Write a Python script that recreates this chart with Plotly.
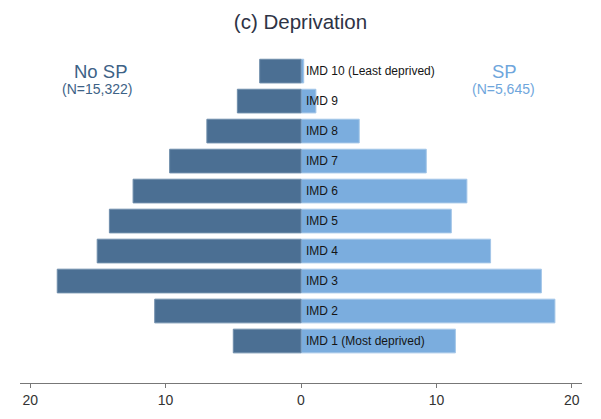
import plotly.graph_objects as go

# IMD deciles, bottom to top
categories = ["IMD 1 (Most deprived)", "IMD 2", "IMD 3", "IMD 4", "IMD 5",
              "IMD 6", "IMD 7", "IMD 8", "IMD 9", "IMD 10 (Least deprived)"]
# Percentage of each group in each decile
no_sp = [5.0, 10.8, 18.0, 15.05, 14.15, 12.4, 9.7, 6.95, 4.7, 3.05]
sp = [11.4, 18.75, 17.75, 14.0, 11.1, 12.25, 9.25, 4.3, 1.1, 0.2]
tick_vals = [-20, -10, 0, 10, 20]
tick_text = ["20", "10", "0", "10", "20"]

FONT = "Liberation Sans, Arial, sans-serif"
DARK = "#4b6f93"
LIGHT = "#7badde"
pos = list(range(len(categories)))

fig = go.Figure()
fig.add_trace(go.Bar(
    y=pos, x=sp, orientation="h", width=0.79,
    marker=dict(color=LIGHT, line=dict(color="#a3c6e8", width=1)),
    name="SP", hoverinfo="x+y"))
fig.add_trace(go.Bar(
    y=pos, x=[-v for v in no_sp], orientation="h", width=0.79,
    marker=dict(color=DARK, line=dict(color="#6e8dab", width=1)),
    name="No SP", hoverinfo="x+y"))

# decile labels just right of zero
for p, c in zip(pos, categories):
    fig.add_annotation(x=0, y=p, text=c, showarrow=False, xanchor="left",
                       yanchor="middle", xshift=3,
                       font=dict(family=FONT, size=12, color="#151515"))

# group headers
fig.add_annotation(x=-14.77, y=9.0, text="No SP", showarrow=False, borderpad=0,
                   font=dict(family=FONT, size=18.5, color="#3d6286"))
fig.add_annotation(x=-15.1, y=8.4, text="(N=15,322)", showarrow=False, borderpad=0,
                   font=dict(family=FONT, size=14, color="#3d6286"))
fig.add_annotation(x=15.05, y=9.0, text="SP", showarrow=False, borderpad=0,
                   font=dict(family=FONT, size=18.5, color="#6fa6dc"))
fig.add_annotation(x=14.97, y=8.4, text="(N=5,645)", showarrow=False, borderpad=0,
                   font=dict(family=FONT, size=14, color="#6fa6dc"))

fig.update_layout(
    width=601, height=419,
    margin=dict(l=20, r=19, t=45, b=36),
    paper_bgcolor="white", plot_bgcolor="white",
    barmode="overlay", showlegend=False,
    title=dict(text="(c) Deprivation", x=0.5, xanchor="center", y=0.9475,
               yanchor="middle",
               font=dict(family=FONT, size=20.5, color="#2e3345")),
    xaxis=dict(range=[-20.75, 20.75], tickvals=tick_vals, ticktext=tick_text,
               showgrid=False, zeroline=False, showline=True,
               linecolor="#777777", linewidth=1, ticks="outside", ticklen=4,
               tickcolor="#777777", automargin=False,
               tickfont=dict(family=FONT, size=14, color="#333333"),
               anchor="y", fixedrange=True),
    yaxis=dict(range=[-1.4, 9.87], showgrid=False, zeroline=False,
               showline=False, showticklabels=False, ticks="",
               automargin=False, fixedrange=True),
)

fig.write_html("out.html")
